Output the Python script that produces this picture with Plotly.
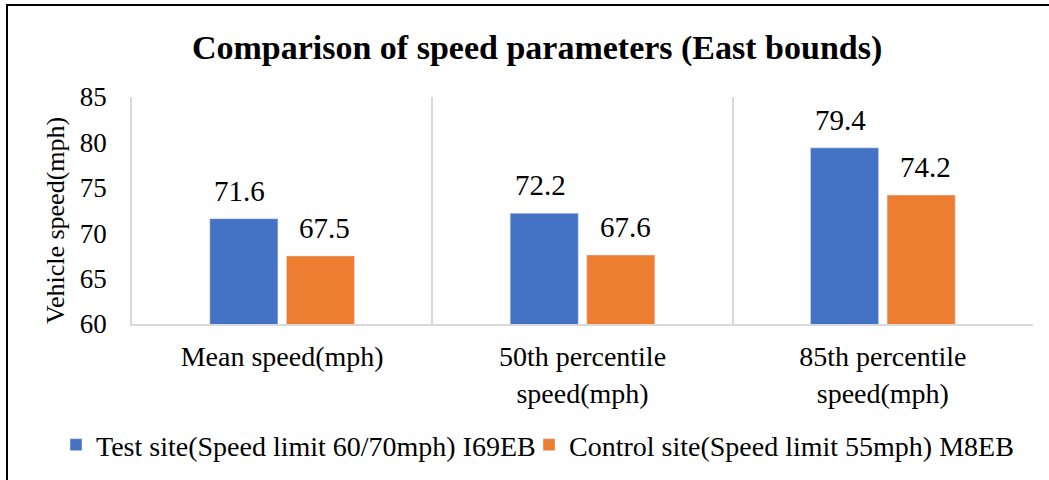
import plotly.graph_objects as go

categories = ["Mean speed(mph)", "50th percentile<br>speed(mph)", "85th percentile<br>speed(mph)"]
test_site = [71.6, 72.2, 79.4]
control_site = [67.5, 67.6, 74.2]
series_names = ["Test site(Speed limit 60/70mph) I69EB", "Control site(Speed limit 55mph) M8EB"]
y_ticks = [60, 65, 70, 75, 80, 85]

FONT = "Liberation Serif, Times New Roman, serif"
BLUE = "#4472C4"
ORANGE = "#ED7D31"

W, H = 1049, 480
L, R, T, B = 132, 16, 97, 156
PW, PH = W - L - R, H - T - B
BAR_OFFSET = 42.5  # px from category centre to each bar centre

series = [
    (series_names[0], test_site, BLUE, -1, "legend", 56),
    (series_names[1], control_site, ORANGE, 1, "legend2", 529),
]

fig = go.Figure()
for name, vals, color, _, leg, _ in series:
    fig.add_trace(go.Bar(x=categories, y=vals, name=name, marker_color=color, legend=leg))

# value labels above each bar
annotations = []
for _, vals, _, side, _, _ in series:
    for cat, v in zip(categories, vals):
        annotations.append(dict(
            x=cat, y=v, xref="x", yref="y", text=f"{v:.1f}", showarrow=False,
            xshift=side * BAR_OFFSET, yshift=10, yanchor="bottom",
            font=dict(family=FONT, size=29, color="#000000")))

annotations.append(dict(text="Vehicle speed(mph)", textangle=-90,
                        x=(55 - L) / PW, xref="paper", xanchor="center",
                        y=(324 - 221) / PH, yref="paper", yanchor="middle",
                        showarrow=False,
                        font=dict(family=FONT, size=26, color="#000000")))


def legend_box(px_left):
    # one legend entry per series, positioned by its left edge in pixels
    return dict(orientation="h", xref="paper", yref="paper",
                x=(px_left - L) / PW, xanchor="left",
                y=-(445 - 324) / PH, yanchor="middle",
                font=dict(family=FONT, size=28, color="#000000"),
                itemwidth=30, tracegroupgap=0, bgcolor="rgba(0,0,0,0)")


fig.update_layout(
    width=W, height=H,
    margin=dict(l=L, r=R, t=T, b=B, autoexpand=False),
    paper_bgcolor="white", plot_bgcolor="white",
    barmode="group", bargap=0.49, bargroupgap=0.11,
    font=dict(family=FONT, color="#000000"),
    title=dict(text="<b>Comparison of speed parameters (East bounds)</b>",
               x=0.512, xref="container", xanchor="center",
               y=1 - 47 / H, yref="container", yanchor="middle",
               font=dict(family=FONT, size=34, color="#000000")),
    showlegend=True,
    legend=legend_box(series[0][5]),
    legend2=legend_box(series[1][5]),
    xaxis=dict(showgrid=True, gridcolor="#D9D9D9", gridwidth=1.5, tickson="boundaries",
               showline=True, linecolor="#D9D9D9", linewidth=1.5,
               ticks="", ticklabelstandoff=7, automargin=False,
               tickfont=dict(family=FONT, size=28, color="#000000")),
    yaxis=dict(range=[60, 85], tickvals=y_ticks, showgrid=False,
               showline=True, linecolor="#D9D9D9", linewidth=1.5,
               ticks="", ticklabelstandoff=18, automargin=False,
               tickfont=dict(family=FONT, size=27, color="#000000")),
    annotations=annotations,
)

# outer frame of the chart
fig.add_shape(type="rect", xref="paper", yref="paper",
              x0=(7 - L) / PW, x1=1.2,
              y0=-1.5, y1=1 + (T - 5) / PH,
              line=dict(color="#000000", width=2), layer="above")

fig.write_html("out.html")
